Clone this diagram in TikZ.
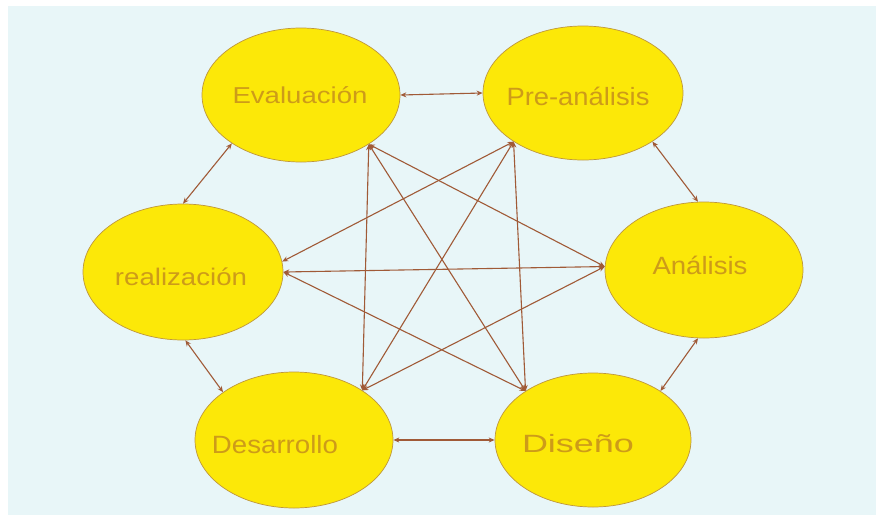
\documentclass[tikz,border=0pt]{standalone}
\usepackage{fontspec}
\setmainfont{Liberation Sans}
\usetikzlibrary{shapes.geometric,arrows.meta}
\definecolor{paper}{RGB}{232,246,248}
\definecolor{stagefill}{RGB}{252,232,8}
\definecolor{stageedge}{RGB}{190,150,60}
\definecolor{stagetext}{RGB}{205,155,25}
\definecolor{linkcol}{RGB}{160,90,55}
% font size, stretched width, text
\newcommand{\stagelabel}[3]{\fontsize{#1}{#1}\selectfont\resizebox{#2pt}{\height}{#3}}

\begin{document}
\begin{tikzpicture}[x=1pt,y=-1pt,
  stage/.style={ellipse, draw=stageedge, line width=0.7pt, fill=stagefill, inner sep=0pt},
  stagetxt/.style={text=stagetext, inner sep=0pt, anchor=base},
  link/.style={draw=linkcol, line width=1.1pt, {Stealth[length=6pt,width=5pt]}-{Stealth[length=6pt,width=5pt]}}
]
\useasboundingbox (0,0) rectangle (876,515);
\fill[white] (0,0) rectangle (876,515);
\fill[paper] (8,6) rectangle (876,515);

% the six stages
\node[stage, minimum width=198pt, minimum height=134pt] (eva) at (301,95) {};
\node[stage, minimum width=200pt, minimum height=134pt] (pre) at (583,93) {};
\node[stage, minimum width=198pt, minimum height=136pt] (ana) at (704,270) {};
\node[stage, minimum width=200pt, minimum height=136pt] (rea) at (183,272) {};
\node[stage, minimum width=198pt, minimum height=136pt] (des) at (294,440) {};
\node[stage, minimum width=196pt, minimum height=134pt] (dis) at (593,440) {};

% their names
\node[stagetxt] (evat) at (300,103) {\stagelabel{23}{135}{Evaluación}};
\node[stagetxt] (pret) at (578,105) {\stagelabel{25}{143}{Pre-análisis}};
\node[stagetxt] (anat) at (700,274) {\stagelabel{25}{95}{Análisis}};
\node[stagetxt] (reat) at (181,285) {\stagelabel{24}{132}{realización}};
\node[stagetxt] (dest) at (275,453) {\stagelabel{25}{126}{Desarrollo}};
\node[stagetxt] (dist) at (578,452) {\stagelabel{25}{112}{Diseño}};

% links around the ring
\draw[link] (eva.east) -- (pre.west);
\draw[link] (pre.-35) -- (ana.95);
\draw[link] (ana.-95) -- (dis.36);
\draw[link] (dis.west) -- (des.east);
\draw[link] (des.146) -- (rea.-88);
\draw[link] (rea.90) -- (eva.215);

% links across the ring
\draw[link] (eva.-36) -- (ana.178);
\draw[link] (eva.-36) -- (dis.144);
\draw[link] (eva.-36) -- (des.36);
\draw[link] (pre.215) -- (rea.6);
\draw[link] (pre.215) -- (des.36);
\draw[link] (pre.215) -- (dis.144);
\draw[link] (rea.0) -- (ana.178);
\draw[link] (rea.0) -- (dis.144);
\draw[link] (ana.178) -- (des.36);
\end{tikzpicture}
\end{document}
